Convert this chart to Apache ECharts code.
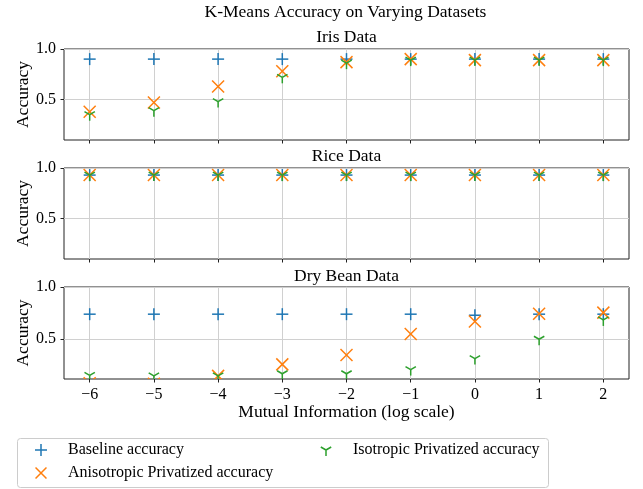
<!DOCTYPE html>
<html><head><meta charset="utf-8">
<script src="https://cdn.jsdelivr.net/npm/echarts@6/dist/echarts.min.js"></script>
<style>html,body{margin:0;padding:0;background:#fff}#c{width:643px;height:489px}</style>
</head><body><div id="c"></div>
<script>
// ---- data ----
const mutualInfo = [-6, -5, -4, -3, -2, -1, 0, 1, 2];
const xTicks = [-6, -5, -4, -3, -2, -1, 0, 1, 2];
const yTicks = [0.5, 1.0];
const datasetTitles = ['Iris Data', 'Rice Data', 'Dry Bean Data'];
const methodNames = ['Baseline accuracy', 'Anisotropic Privatized accuracy', 'Isotropic Privatized accuracy'];

const irisBaseline = [0.90, 0.90, 0.90, 0.90, 0.90, 0.90, 0.90, 0.90, 0.90];
const irisAniso    = [0.38, 0.47, 0.63, 0.78, 0.87, 0.90, 0.89, 0.89, 0.89];
const irisIso      = [0.35, 0.39, 0.48, 0.72, 0.86, 0.89, 0.89, 0.89, 0.89];

const riceBaseline = [0.93, 0.93, 0.93, 0.93, 0.93, 0.93, 0.93, 0.93, 0.93];
const riceAniso    = [0.93, 0.93, 0.93, 0.93, 0.93, 0.93, 0.93, 0.93, 0.93];
const riceIso      = [0.93, 0.93, 0.93, 0.93, 0.93, 0.93, 0.93, 0.93, 0.93];

const beanBaseline = [0.74, 0.74, 0.74, 0.74, 0.74, 0.74, 0.73, 0.74, 0.74];
const beanAniso    = [0.08, 0.075, 0.15, 0.26, 0.35, 0.55, 0.67, 0.745, 0.755];
const beanIso      = [0.155, 0.15, 0.15, 0.17, 0.17, 0.21, 0.315, 0.50, 0.685];

const yMins = [0.1, 0.1, 0.12];
const yMax = 1.0;

// ---- styling ----
const FONT = 'Liberation Serif';
const COLORS = ['#1f77b4', '#ff7f0e', '#2ca02c'];
const KINDS = ['plus', 'x', 'tri'];
const gridTops = [49, 168, 287];
const gridHeights = [91, 91, 92];
const GRID_LEFT = 64, GRID_W = 565;
const SPINE = '#222';
const GRIDC = '#d0d0d0';

function segsFor(kind, x, y, r) {
  if (kind === 'plus') return [[x - r, y, x + r, y], [x, y - r, x, y + r]];
  if (kind === 'x') return [[x - r, y - r, x + r, y + r], [x - r, y + r, x + r, y - r]];
  return [[x, y, x, y + r], [x, y, x - 0.866 * r, y - 0.5 * r], [x, y, x + 0.866 * r, y - 0.5 * r]];
}

function renderer(kind, color) {
  return function (params, api) {
    const p = api.coord([api.value(0), api.value(1)]);
    return {
      type: 'group',
      children: segsFor(kind, p[0], p[1], 6).map(s => ({
        type: 'line',
        shape: { x1: s[0], y1: s[1], x2: s[2], y2: s[3] },
        style: { stroke: color, lineWidth: 1.5 }
      }))
    };
  };
}

const allData = [
  [irisBaseline, irisAniso, irisIso],
  [riceBaseline, riceAniso, riceIso],
  [beanBaseline, beanAniso, beanIso]
];

const minusFmt = v => String(v).replace('-', '\u2212');

const grids = [], xAxes = [], yAxes = [], series = [];
for (let g = 0; g < 3; g++) {
  grids.push({
    left: GRID_LEFT, top: gridTops[g], width: GRID_W, height: gridHeights[g],
    show: true, borderColor: SPINE, borderWidth: 1, backgroundColor: 'transparent'
  });
  xAxes.push({
    type: 'value', gridIndex: g, min: -6.4, max: 2.4, position: 'bottom',
    axisLine: { show: false, onZero: false },
    axisTick: { show: true, inside: false, length: 3.5, lineStyle: { color: SPINE }, customValues: xTicks },
    axisLabel: { show: g === 2, customValues: xTicks, formatter: minusFmt, margin: 8,
      fontFamily: FONT, fontSize: 16, color: '#000' },
    splitLine: { show: true, lineStyle: { color: GRIDC, width: 1 } },
    name: g === 2 ? 'Mutual Information (log scale)' : '',
    nameLocation: 'middle', nameGap: 24, nameMoveOverlap: false,
    nameTextStyle: { fontFamily: FONT, fontSize: 17.5, color: '#000' }
  });
  yAxes.push({
    type: 'value', gridIndex: g, min: yMins[g], max: yMax, position: 'left',
    axisLine: { show: false, onZero: false },
    axisTick: { show: true, inside: false, length: 3.5, lineStyle: { color: SPINE }, customValues: yTicks },
    axisLabel: { customValues: yTicks, formatter: v => v.toFixed(1), margin: 8,
      fontFamily: FONT, fontSize: 16, color: '#000' },
    splitLine: { show: true, lineStyle: { color: GRIDC, width: 1 } },
    name: 'Accuracy', nameLocation: 'middle', nameGap: 32, nameRotate: 90, nameMoveOverlap: false,
    nameTextStyle: { fontFamily: FONT, fontSize: 17.5, color: '#000' }
  });
  for (let m = 0; m < 3; m++) {
    series.push({
      type: 'custom', name: methodNames[m], xAxisIndex: g, yAxisIndex: g,
      clip: true, z: 2 + m,
      itemStyle: { color: COLORS[m] },
      renderItem: renderer(KINDS[m], COLORS[m]),
      encode: { x: 0, y: 1 },
      data: mutualInfo.map((v, i) => [v, allData[g][m][i]])
    });
  }
}

// legend icons: 44x12 box, marker (12x12) centred at x=22
const ANCH = 'M0,0L0.01,0L0,0.01Z M44,12L43.99,12L44,11.99Z ';
const ICON_PLUS = 'path://' + ANCH + 'M21.25,0H22.75V5.25H28V6.75H22.75V12H21.25V6.75H16V5.25H21.25Z';
const ICON_X = 'path://' + ANCH + 'M16,1.06L17.06,0L28,10.94L26.94,12Z M26.94,0L28,1.06L17.06,12L16,10.94Z';
const ICON_TRI = 'path://' + ANCH + 'M21.25,6H22.75V12H21.25Z M21.625,5.35L26.825,2.35L27.575,3.65L22.375,6.65Z M22.375,5.35L22.375,6.65L21.625,6.65L16.425,3.65L17.175,2.35Z';
const icons = [ICON_PLUS, ICON_X, ICON_TRI];

const legendCommon = {
  orient: 'vertical', top: 440, padding: 0, itemGap: 3, itemWidth: 44, itemHeight: 12,
  selectedMode: false,
  textStyle: { fontFamily: FONT, fontSize: 16, color: '#000', lineHeight: 20 }
};

const textEl = (t, x, y) => ({
  type: 'text', x: x, y: y, z: 10,
  style: { text: t, fontFamily: FONT, fontSize: 17.5, fill: '#000', textAlign: 'center', textVerticalAlign: 'middle' }
});
const subY = [37.5, 156.5, 276];
const cx = GRID_LEFT + GRID_W / 2;

const option = {
  backgroundColor: '#fff',
  animation: false,
  grid: grids, xAxis: xAxes, yAxis: yAxes, series: series,
  legend: [
    Object.assign({}, legendCommon, { left: 19,
      data: [{ name: methodNames[0], icon: icons[0] }, { name: methodNames[1], icon: icons[1] }] }),
    Object.assign({}, legendCommon, { left: 304,
      data: [{ name: methodNames[2], icon: icons[2] }] })
  ],
  graphic: [
    { type: 'rect', z: 0, shape: { x: 17.5, y: 438.5, width: 531, height: 49, r: 3 },
      style: { fill: '#fff', stroke: '#cccccc', lineWidth: 1 } },
    textEl('K-Means Accuracy on Varying Datasets', 345.5, 12),
    textEl(datasetTitles[0], cx, subY[0]),
    textEl(datasetTitles[1], cx, subY[1]),
    textEl(datasetTitles[2], cx, subY[2])
  ]
};
const chart = echarts.init(document.getElementById('c'), null, { renderer: 'canvas' });
chart.setOption(option);
</script></body></html>
